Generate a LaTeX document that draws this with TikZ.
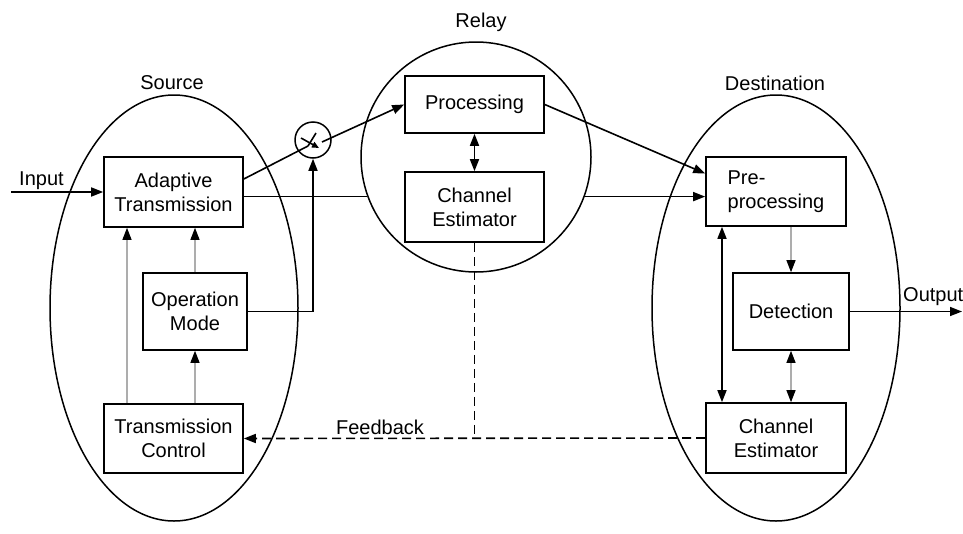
\documentclass[tikz,border=0pt]{standalone}
\usepackage{fontspec}
\setmainfont{Liberation Sans}
\usetikzlibrary{arrows.meta,shapes.geometric,calc}
\definecolor{lg}{gray}{0.68}
\begin{document}
\begin{tikzpicture}[x=1pt,y=-1pt,
  every node/.style={font=\fontsize{20}{24}\selectfont},
  box/.style={draw,line width=1.6pt,rectangle,inner sep=0pt,align=center},
  zone/.style={draw,line width=1.5pt,ellipse,inner sep=0pt},
  lbl/.style={inner sep=0pt},
  tip/.style={-{Triangle[length=12pt,width=9pt,color=black]}},
  dtip/.style={{Triangle[length=12pt,width=9pt,color=black]}-{Triangle[length=12pt,width=9pt,color=black]}},
  ln/.style={line width=1.6pt},
  gl/.style={line width=1.1pt,draw=lg},
  fb/.style={line width=1.6pt,dash pattern=on 9pt off 5pt}]
\useasboundingbox (0,0) rectangle (963,533);
% zones
\node[zone,minimum width=248pt,minimum height=426pt] (src) at (174,308) {};
\node[zone,circle,minimum size=230pt] (rel) at (476,157) {};
\node[zone,minimum width=248pt,minimum height=426pt] (dst) at (776,308) {};
\node[lbl] (srcl) at (172,83) {Source};
\node[lbl] (rell) at (481,22) {Relay};
\node[lbl] (dstl) at (775,83) {Destination};
% source boxes
\node[box,minimum width=139pt,minimum height=70pt] (at) at (173.5,192) {Adaptive\\Transmission};
\node[box,minimum width=104pt,minimum height=77pt] (om) at (195,311.5) {Operation\\Mode};
\node[box,minimum width=139pt,minimum height=69pt] (tc) at (173.5,438.5) {Transmission\\Control};
% relay boxes
\node[box,minimum width=139pt,minimum height=57pt] (proc) at (474.5,104.5) {Processing};
\node[box,minimum width=139pt,minimum height=70pt] (rce) at (474.5,207) {Channel\\Estimator};
% destination boxes
\node[box,minimum width=140pt,minimum height=69pt,align=left] (pp) at (776,191.5) {Pre-\\processing};
\node[box,minimum width=116pt,minimum height=77pt] (det) at (791,311.5) {Detection};
\node[box,minimum width=140pt,minimum height=70pt] (dce) at (776,438) {Channel\\Estimator};
% switch
\node[draw,line width=1.5pt,circle,minimum size=36pt,inner sep=0pt] (sw) at (313,140) {};
\coordinate (swin) at ($(sw.center)+(-5,6)$);
\coordinate (swout) at ($(sw.center)+(9,2)$);
\draw[ln] (swin) -- ($(sw.center)+(3,-7)$);
\draw[ln,-{Triangle[length=7pt,width=6pt]}] ($(sw.center)+(-12,-2)$) -- ($(sw.center)+(6,8)$);
% inputs / outputs
\coordinate (in) at (11,192);
\coordinate (out) at (962,311.5);
\node[lbl,anchor=west] (inl) at (19,181) {Input};
\node[lbl,anchor=west] (outl) at (903,297) {Output};
\draw[ln,tip] (in) -- (at.west);
% source connections
\draw[gl,tip] ([xshift=-46.5pt]tc.north) -- ([xshift=-46.5pt]at.south);
\draw[gl,tip] (tc.north -| om.south) -- (om.south);
\draw[gl,tip] (om.north) -- (om.north |- at.south);
\draw[ln] ([yshift=13pt]at.east) -- (swin);
\draw[ln,tip] (om.east) -| (sw.south);
\draw[ln,tip] (swout) -- (proc.west);
\draw[ln] (at.east |- rel.200) -- (rel.200);
% relay connections
\draw[ln,dtip] (proc.south) -- (rce.north);
\draw[ln,tip] (proc.east) -- ([yshift=18pt]pp.west);
\draw[ln,tip] (rel.-20) -- (rel.-20 -| pp.west);
% destination connections
\draw[gl,tip] (pp.south -| det.north) -- (det.north);
\draw[gl,dtip] (det.south) -- (det.south |- dce.north);
\draw[ln,dtip] ([xshift=-54pt]pp.south) -- ([xshift=-54pt]pp.south |- dce.north);
\draw[ln,tip] (det.east) -- (out);
% feedback
\draw[fb] (rce.south) -- (rce.south |- dce.west);
\draw[fb,tip] (dce.west) -- (tc.east);
\node[lbl] (fbl) at (380,427) {Feedback};
\end{tikzpicture}
\end{document}
